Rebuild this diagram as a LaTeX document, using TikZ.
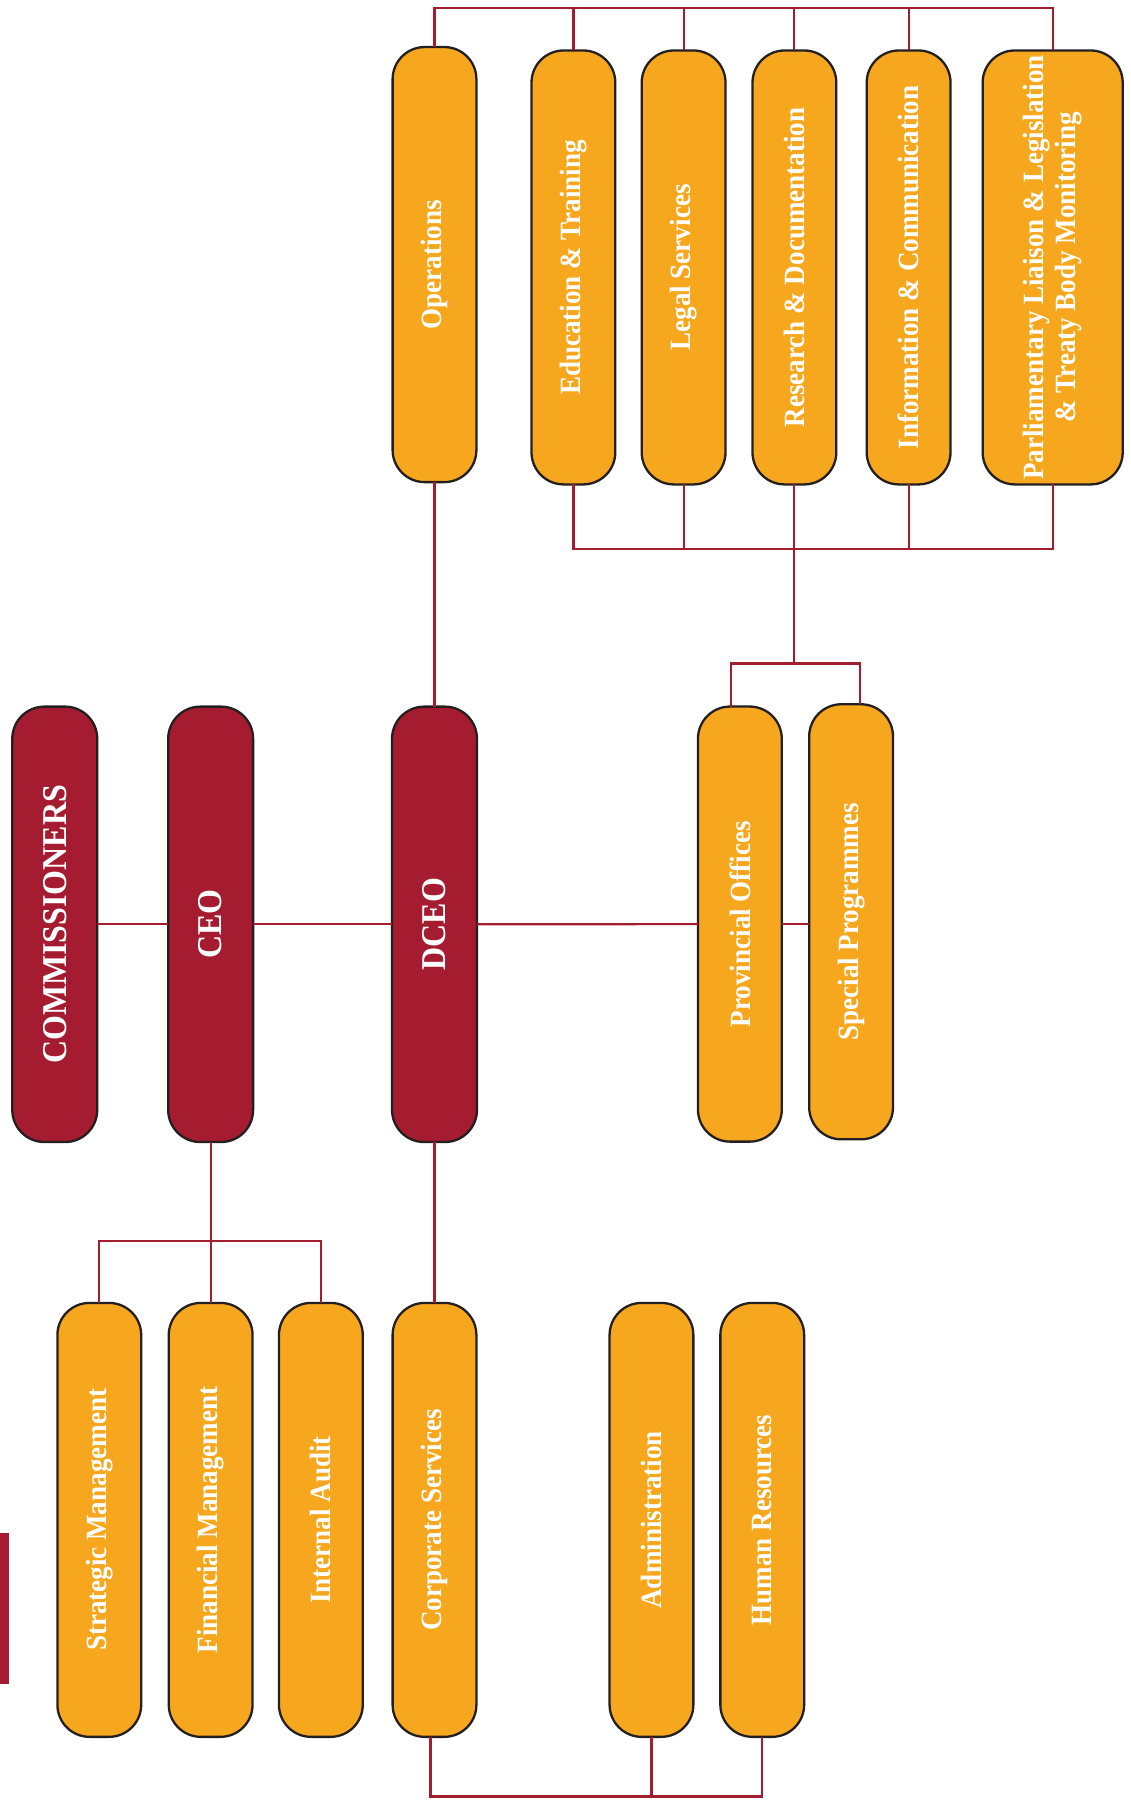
\documentclass[tikz,border=0pt]{standalone}
\usepackage{fontspec}
\setmainfont{Liberation Serif}[FakeStretch=0.92]
\definecolor{hrcred}{HTML}{A51C30}
\definecolor{hrcorange}{HTML}{F7A71E}
\definecolor{hrcedge}{HTML}{231F20}
\tikzset{
  basebox/.style={draw=hrcedge, line width=2pt, rounded corners=28pt, inner sep=0pt, outer sep=0pt,
    text=white, font=\bfseries, align=center},
  redbox/.style={basebox, fill=hrcred, minimum width=74pt, minimum height=379.3pt,
    font=\fontsize{30.3}{36}\selectfont\bfseries},
  obox/.style={basebox, fill=hrcorange, minimum width=73pt, minimum height=378pt,
    font=\fontsize{25.6}{29}\selectfont\bfseries},
  link/.style={draw=hrcred, line width=1.9pt}
}
\newcommand{\rt}[1]{\rotatebox{90}{#1}}
\begin{document}
\begin{tikzpicture}[x=1pt,y=1pt]
\useasboundingbox (0,0) rectangle (985,1568);
% left accent bar
\fill[hrcred] (0,101) rectangle (7.5,233);
% red nodes
\node[redbox] (comm) at (47.7,762.8) {\rt{COMMISSIONERS}};
\node[redbox] (ceo) at (183.5,762.8) {\rt{CEO}};
\node[redbox] (dceo) at (378.5,762.8) {\rt{DCEO}};
% middle right
\node[obox, minimum height=379pt] (prov) at (644.5,763) {\rt{Provincial Offices}};
\node[obox, minimum height=379pt] (spec) at (741.4,765) {\rt{Special Programmes}};
% top row
\node[obox, minimum height=379pt] (ops) at (378.5,1337.5) {\rt{Operations}};
\node[obox] (edu) at (499.5,1335) {\rt{Education \& Training}};
\node[obox] (legal) at (595.5,1335) {\rt{Legal Services}};
\node[obox] (res) at (692,1335) {\rt{Research \& Documentation}};
\node[obox] (info) at (791.5,1335) {\rt{Information \& Communication}};
\node[obox, minimum width=122pt] (parl) at (917,1335) {\rt{\begin{tabular}{@{}c@{}}Parliamentary Liaison \& Legislation\\[-1pt] \& Treaty Body Monitoring\end{tabular}}};
% bottom row
\node[obox] (strat) at (86.5,244) {\rt{Strategic Management}};
\node[obox] (fin) at (183.5,244) {\rt{Financial Management}};
\node[obox] (audit) at (279.5,244) {\rt{Internal Audit}};
\node[obox] (corp) at (378.5,244) {\rt{Corporate Services}};
\node[obox] (admin) at (567.5,244) {\rt{Administration}};
\node[obox] (hr) at (664,244) {\rt{Human Resources}};
% helper coordinates
\coordinate (topbar) at (0,1561);
\coordinate (midbar) at (0,1090);
\coordinate (pl) at (637,990);
\coordinate (pr) at (749,990);
\coordinate (ceobar) at (0,487);
\coordinate (botbar) at (0,3);
\coordinate (cbl) at (375,0);
% main horizontal spine
\draw[link] (comm.east) -- (ceo.west);
\draw[link] (ceo.east) -- (dceo.west);
\draw[link] (dceo.east) -- (prov.west);
\draw[link] (prov.east) -- (prov.east -| spec.west);
% DCEO up and down
\draw[link] (dceo.north) -- (ops.south);
\draw[link] (dceo.south) -- (corp.north);
% top bar
\draw[link] (ops.north) -- (ops.north |- topbar) -- (parl.north |- topbar) -- (parl.north);
\draw[link] (edu.north) -- (edu.north |- topbar);
\draw[link] (legal.north) -- (legal.north |- topbar);
\draw[link] (res.north) -- (res.north |- topbar);
\draw[link] (info.north) -- (info.north |- topbar);
% bar below top group
\draw[link] (edu.south) -- (edu.south |- midbar) -- (parl.south |- midbar) -- (parl.south);
\draw[link] (legal.south) -- (legal.south |- midbar);
\draw[link] (info.south) -- (info.south |- midbar);
\draw[link] (res.south) -- (res.south |- pl);
\draw[link] (pl |- prov.north) -- (pl) -- (pr) -- (pr |- spec.north);
% CEO bracket
\draw[link] (ceo.south) -- (fin.north);
\draw[link] (strat.north) -- (strat.north |- ceobar) -- (audit.north |- ceobar) -- (audit.north);
% bottom bar
\draw[link] (cbl |- corp.south) -- (cbl |- botbar) -- (hr.south |- botbar) -- (hr.south);
\draw[link] (admin.south) -- (admin.south |- botbar);
\end{tikzpicture}
\end{document}
